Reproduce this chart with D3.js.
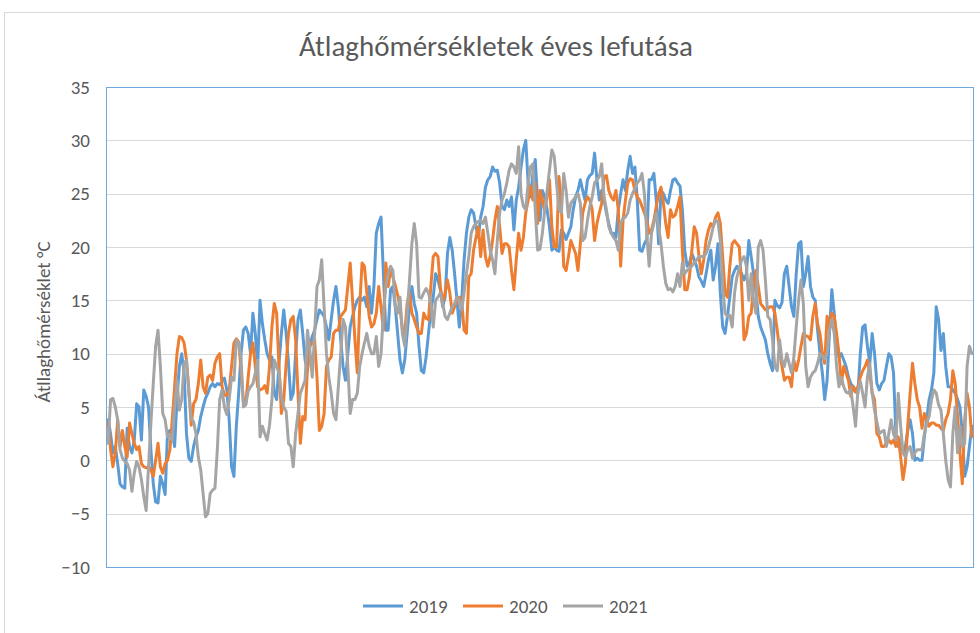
<!DOCTYPE html>
<html>
<head>
<meta charset="utf-8">
<script src="https://cdn.jsdelivr.net/npm/d3@7"></script>
<style>
  body { margin: 0; background: #fff; }
  svg { display: block; }
</style>
</head>
<body>
<svg id="chart" width="980" height="633"></svg>
<script>
// napi átlaghőmérsékletek (°C), az év napjai szerint
const days = d3.range(1, 366);

const t2019 = [
  3.8, 2.5, 0.7, 1.3, -0.3, -2.2, -2.5, -2.6, 3.0, 1.3,
  0.7, 1.9, 5.3, 5.0, 1.9, 6.6, 6.0, 5.0, 1.0, -2.2,
  -3.9, -4.0, -1.5, -2.2, -3.2, 2.5, 2.8, 2.5, 1.3, 5.7,
  8.8, 10.0, 8.2, 2.5, 0.2, -0.1, 1.3, 2.2, 2.8, 4.1,
  5.0, 5.8, 6.3, 6.9, 7.2, 6.9, 7.2, 7.1, 7.4, 7.7,
  6.6, 3.8, -0.6, -1.5, 3.2, 6.3, 10.0, 12.2, 12.5, 11.9,
  10.0, 13.8, 11.9, 8.8, 15.0, 12.8, 11.3, 10.0, 9.4, 9.7,
  6.3, 5.7, 9.1, 11.9, 14.1, 11.9, 9.1, 5.7, 6.3, 10.0,
  13.2, 14.1, 11.9, 9.4, 8.4, 10.7, 11.6, 12.2, 13.2, 14.1,
  13.8, 13.5, 12.5, 11.3, 13.2, 15.0, 16.3, 14.4, 11.3, 8.8,
  7.5, 10.0, 12.5, 13.5, 14.4, 15.0, 15.3, 15.0, 15.3, 14.4,
  16.3, 13.8, 16.3, 21.3, 22.2, 22.8, 17.5, 12.2, 12.2, 16.0,
  16.3, 14.4, 11.9, 9.4, 8.2, 9.4, 11.9, 14.4, 16.3, 14.7,
  13.8, 10.7, 8.4, 8.2, 9.7, 11.9, 14.1, 15.3, 17.5, 16.9,
  16.0, 14.4, 15.3, 19.4, 20.9, 19.7, 17.5, 15.0, 12.5, 15.0,
  18.8, 21.3, 22.8, 23.5, 23.2, 21.9, 20.9, 22.8, 23.8, 25.6,
  26.3, 26.6, 27.5, 27.1, 27.2, 26.0, 23.8, 23.5, 24.4, 23.8,
  24.7, 21.6, 24.4, 25.6, 27.5, 29.1, 30.0, 26.0, 24.7, 26.9,
  28.2, 24.4, 22.5, 25.3, 24.7, 23.5, 21.9, 19.7, 20.0, 19.7,
  19.6, 21.6, 21.3, 20.7, 21.3, 21.9, 23.5, 24.7, 25.3, 26.3,
  25.3, 24.4, 26.3, 26.7, 26.9, 28.8, 26.3, 24.4, 25.3, 24.4,
  23.2, 22.2, 21.3, 21.3, 20.9, 23.5, 25.0, 26.3, 25.3, 27.2,
  28.5, 26.9, 27.5, 24.4, 19.7, 19.6, 20.3, 20.7, 26.3, 26.3,
  26.9, 24.4, 20.3, 25.3, 25.0, 24.4, 24.1, 25.3, 26.3, 26.4,
  26.0, 25.7, 23.5, 19.7, 18.2, 18.5, 19.4, 18.8, 18.2, 17.2,
  16.8, 16.3, 17.5, 18.8, 19.7, 16.9, 18.2, 20.3, 15.7, 12.5,
  11.9, 13.5, 15.3, 17.2, 17.8, 18.2, 17.8, 17.5, 16.9, 17.5,
  20.6, 19.1, 17.5, 16.0, 13.5, 12.5, 11.9, 11.3, 10.0, 9.1,
  8.4, 15.0, 14.5, 14.3, 14.8, 17.5, 18.2, 16.3, 14.4, 13.5,
  17.5, 20.3, 20.5, 16.3, 17.5, 19.1, 16.3, 15.3, 15.0, 12.2,
  10.0, 8.2, 5.7, 7.5, 11.9, 16.0, 13.8, 10.9, 9.7, 10.0,
  9.4, 8.8, 7.8, 7.2, 6.9, 6.6, 6.3, 10.0, 12.5, 12.7,
  10.7, 9.1, 11.9, 10.0, 7.2, 6.6, 7.2, 7.5, 8.8, 10.0,
  9.7, 8.2, 2.5, 1.3, 1.9, 0.7, 1.3, 2.8, 3.8, 2.5,
  0.0, 0.2, 0.0, 0.0, 2.2, 3.8, 5.7, 6.6, 8.2, 14.4,
  13.2, 10.3, 11.9, 8.8, 6.9, 6.9, 6.6, 6.3, 5.7, 5.0,
  2.5, -1.5, -0.6, 1.3, 3.2
];

const t2020 = [
  3.5, 1.0, -0.6, 0.7, 3.8, 1.3, 2.8, 1.3, 0.3, 3.5,
  2.5, 1.6, 1.0, 1.3, -0.3, -0.6, -0.7, -0.6, -0.9, -1.5,
  0.0, 1.6, -0.6, -1.2, -0.3, 0.0, 1.0, 3.8, 6.9, 10.0,
  11.6, 11.5, 11.0, 9.4, 6.6, 3.3, 5.3, 5.7, 7.2, 9.4,
  6.9, 6.3, 7.8, 8.0, 7.5, 9.1, 9.7, 10.0, 6.9, 6.1,
  6.1, 6.6, 8.8, 11.0, 11.4, 11.1, 8.5, 5.5, 5.3, 7.8,
  10.0, 11.0, 8.8, 6.9, 6.6, 6.7, 7.0, 6.3, 8.8, 12.5,
  14.7, 13.8, 8.8, 4.4, 5.7, 9.1, 11.9, 13.2, 13.5, 11.3,
  6.3, 1.6, 4.1, 3.8, 8.8, 10.7, 11.0, 11.3, 7.8, 2.8,
  3.2, 4.4, 8.8, 9.4, 9.7, 11.9, 12.2, 12.2, 13.5, 13.8,
  14.1, 16.3, 18.5, 15.0, 11.3, 8.2, 14.4, 18.5, 18.2, 15.7,
  13.5, 12.5, 12.8, 13.8, 16.3, 14.4, 12.2, 18.5, 16.3, 17.8,
  17.2, 16.4, 15.5, 14.4, 12.2, 11.9, 14.7, 15.7, 13.8, 13.2,
  12.5, 11.9, 11.9, 13.8, 13.3, 13.2, 16.3, 19.1, 19.4, 19.1,
  16.3, 14.7, 15.7, 16.9, 15.7, 13.8, 14.4, 15.0, 15.3, 15.0,
  12.2, 11.9, 17.2, 17.5, 19.7, 20.9, 21.9, 19.1, 21.6, 19.1,
  18.2, 19.1, 20.6, 22.5, 23.8, 21.9, 19.4, 20.3, 20.3, 20.0,
  17.8, 16.0, 18.8, 21.3, 19.7, 20.9, 23.2, 24.4, 25.7, 24.4,
  26.0, 22.2, 25.3, 24.4, 23.5, 24.7, 26.3, 21.9, 20.0, 20.0,
  26.6, 23.8, 18.2, 17.8, 19.1, 20.6, 20.0, 19.4, 17.8, 20.3,
  23.2, 24.1, 24.7, 24.4, 23.5, 20.6, 22.2, 23.2, 24.1, 26.6,
  26.7, 25.3, 24.7, 24.4, 25.3, 23.5, 18.2, 22.5, 24.4, 26.0,
  26.4, 26.3, 25.3, 24.7, 24.4, 23.8, 23.2, 22.5, 21.3, 21.6,
  22.5, 23.8, 25.0, 25.6, 24.1, 22.2, 20.9, 23.5, 22.8, 23.0,
  23.8, 24.7, 19.7, 16.0, 16.0, 17.2, 19.7, 21.9, 21.3, 19.1,
  17.5, 18.8, 20.6, 21.6, 22.2, 21.9, 22.8, 23.2, 22.2, 19.1,
  15.7, 15.3, 18.2, 20.3, 20.6, 20.3, 20.0, 16.3, 11.3, 11.9,
  13.5, 13.8, 16.3, 17.8, 16.3, 14.7, 14.4, 14.1, 14.2, 14.4,
  14.4, 13.8, 12.2, 10.3, 8.8, 7.5, 7.8, 7.8, 6.9, 9.4,
  8.4, 9.4, 10.7, 11.9, 11.7, 11.6, 11.3, 13.5, 14.7, 12.8,
  11.9, 10.0, 9.1, 13.5, 12.5, 13.8, 13.5, 11.9, 10.0, 7.2,
  8.8, 8.2, 7.5, 6.0, 6.9, 6.4, 6.9, 7.8, 8.4, 8.8,
  9.4, 8.2, 6.3, 5.7, 2.5, 2.2, 1.3, 1.3, 1.6, 1.9,
  1.6, 1.9, 1.3, 2.2, 0.3, -1.8, -0.3, 3.2, 6.3, 9.1,
  7.2, 5.7, 5.0, 3.0, 4.4, 3.8, 3.2, 3.5, 3.5, 3.3,
  3.3, 3.0, 2.8, 3.8, 4.4, 5.7, 8.4, 7.2, 4.1, 0.7,
  -2.2, 3.8, 6.3, 5.0, 2.2
];

const t2021 = [
  1.6, 5.7, 5.8, 5.0, 3.8, 1.0, 0.2, -0.1, -0.3, -0.9,
  -2.9, -1.2, -0.1, -0.6, -1.8, -3.4, -4.7, -0.6, 3.5, 7.2,
  10.7, 12.2, 8.8, 4.4, 3.8, 2.2, 2.4, 1.9, 5.0, 7.5,
  4.7, 5.7, 9.1, 9.4, 6.3, 3.9, 3.6, 2.5, 0.3, -0.9,
  -3.1, -5.3, -5.0, -3.1, -2.8, -2.6, 1.0, 5.7, 6.6, 5.0,
  4.3, 5.7, 7.8, 7.5, 11.3, 11.0, 9.5, 5.0, 5.2, 6.5,
  6.9, 7.2, 8.2, 9.4, 2.2, 3.2, 2.5, 1.9, 3.3, 5.7,
  9.4, 8.8, 8.2, 6.0, 5.0, 4.6, 1.6, 1.3, -0.6, 2.5,
  4.4, 6.3, 6.9, 7.5, 12.2, 10.3, 7.8, 11.9, 16.3, 16.9,
  18.8, 14.4, 10.0, 7.8, 6.3, 4.4, 3.8, 6.9, 10.0, 13.2,
  12.5, 8.8, 4.4, 5.7, 5.7, 6.3, 8.8, 10.0, 11.0, 11.9,
  10.7, 10.0, 10.0, 11.6, 8.8, 10.0, 13.8, 16.3, 17.5, 18.2,
  17.8, 14.4, 13.8, 15.3, 11.9, 10.7, 13.8, 16.9, 20.3, 22.2,
  20.3, 15.3, 15.2, 15.7, 16.1, 15.7, 14.7, 12.5, 15.0, 15.3,
  15.7, 14.7, 13.5, 13.2, 13.8, 14.4, 14.7, 15.3, 15.0, 14.1,
  15.7, 17.5, 19.1, 21.3, 21.9, 22.2, 22.4, 22.5, 22.2, 22.8,
  21.3, 19.7, 18.8, 17.5, 20.6, 23.2, 24.4, 25.0, 26.0, 27.2,
  27.8, 27.5, 26.9, 29.4, 25.0, 23.8, 23.5, 26.0, 27.5, 27.8,
  23.5, 19.7, 19.8, 21.3, 23.5, 25.3, 27.2, 29.1, 28.5, 26.0,
  23.5, 23.2, 26.9, 25.3, 22.8, 24.1, 24.4, 24.7, 25.0, 24.1,
  20.6, 20.9, 22.5, 23.8, 24.7, 26.0, 26.3, 26.6, 27.8, 24.7,
  23.5, 21.9, 21.3, 20.9, 20.6, 19.7, 22.2, 22.7, 22.8, 23.2,
  24.4, 25.0, 25.5, 26.0, 26.3, 26.9, 25.0, 21.3, 18.2, 21.3,
  22.2, 23.2, 21.9, 20.3, 18.2, 16.6, 16.0, 16.1, 15.8, 16.3,
  17.5, 16.3, 18.5, 17.5, 17.8, 18.0, 18.2, 18.5, 18.8, 19.1,
  19.1, 19.1, 19.4, 20.0, 20.9, 21.9, 22.5, 22.4, 20.6, 16.3,
  13.8, 13.5, 13.6, 12.5, 15.7, 17.2, 18.0, 18.8, 19.1, 18.2,
  15.0, 17.5, 15.0, 13.8, 20.0, 20.6, 19.7, 16.9, 13.5, 13.2,
  11.3, 8.8, 8.4, 11.3, 9.4, 8.8, 10.0, 9.1, 8.2, 9.7,
  12.5, 15.0, 16.9, 14.7, 8.8, 6.9, 7.8, 8.2, 8.4, 9.1,
  10.0, 9.8, 9.5, 10.0, 12.2, 13.2, 11.9, 8.8, 6.9, 7.8,
  6.9, 6.4, 6.3, 6.6, 5.0, 3.2, 6.6, 7.4, 6.3, 5.0,
  7.8, 9.1, 6.3, 4.7, 3.6, 2.5, 2.7, 2.8, 1.3, 2.5,
  3.8, 2.5, 1.9, 6.3, 3.2, 0.7, 0.3, 1.0, 1.3, 0.2,
  0.7, 1.0, 1.0, 1.0, 2.5, 3.5, 4.1, 5.7, 6.6, 6.3,
  5.2, 4.7, 2.5, 0.0, -1.8, -2.5, 2.5, 5.0, 0.7, 3.2,
  1.3, 1.6, 8.8, 10.7, 10.0
];

const seriesNames = ["2019", "2020", "2021"];
const seriesColors = ["#5B9BD5", "#ED7D31", "#A5A5A5"];
const yTicks = [-10, -5, 0, 5, 10, 15, 20, 25, 30, 35];

const series = [t2019, t2020, t2021].map((vals, i) => ({
  name: seriesNames[i],
  color: seriesColors[i],
  values: vals
}));

const svg = d3.select("#chart");
const font = "Carlito, Calibri, 'Open Sans', sans-serif";
const plot = { left: 107, right: 973, top: 87, bottom: 567 };

// chart frame
svg.append("rect")
  .attr("x", 4.5).attr("y", 12.5)
  .attr("width", 1000).attr("height", 700)
  .attr("fill", "#fff")
  .attr("stroke", "#D9D9D9");

const x = d3.scalePoint()
  .domain(days)
  .range([plot.left, plot.right])
  .padding(0.5);

const y = d3.scaleLinear()
  .domain([-10, 35])
  .range([plot.bottom, plot.top]);

// gridlines
svg.append("g")
  .selectAll("line")
  .data(yTicks)
  .enter()
  .append("line")
  .attr("x1", plot.left).attr("x2", plot.right)
  .attr("y1", d => Math.round(y(d)) + 0.5)
  .attr("y2", d => Math.round(y(d)) + 0.5)
  .attr("stroke", "#D9D9D9")
  .attr("stroke-width", 1);

// y axis labels
const yAxis = d3.axisLeft(y).tickValues(yTicks).tickSize(0).tickPadding(17);
svg.append("g")
  .attr("transform", "translate(" + plot.left + ",0)")
  .call(yAxis)
  .call(g => g.select(".domain").remove())
  .selectAll("text")
  .style("font-family", font)
  .style("font-size", "19px")
  .attr("fill", "#595959");

svg.append("defs").append("clipPath")
  .attr("id", "clip")
  .append("rect")
  .attr("x", plot.left).attr("y", plot.top)
  .attr("width", plot.right - plot.left)
  .attr("height", plot.bottom - plot.top);

const line = d3.line()
  .x((d, i) => x(days[i]))
  .y(d => y(d));

svg.append("g")
  .attr("clip-path", "url(#clip)")
  .selectAll("path")
  .data(series)
  .enter()
  .append("path")
  .attr("d", d => line(d.values))
  .attr("fill", "none")
  .attr("stroke", d => d.color)
  .attr("stroke-width", 3)
  .attr("stroke-linejoin", "round")
  .attr("stroke-linecap", "round");

// plot area border
svg.append("rect")
  .attr("x", plot.left - 0.5).attr("y", plot.top + 0.5)
  .attr("width", plot.right - plot.left + 1)
  .attr("height", plot.bottom - plot.top)
  .attr("fill", "none")
  .attr("stroke", "#6FA8DC")
  .attr("stroke-width", 1);

// title
svg.append("text")
  .attr("x", 496).attr("y", 56)
  .attr("text-anchor", "middle")
  .style("font-family", font)
  .style("font-size", "29px")
  .attr("fill", "#595959")
  .text("Átlaghőmérsékletek éves lefutása");

// y axis title
svg.append("text")
  .attr("transform", "translate(50,322)rotate(-90)")
  .attr("text-anchor", "middle")
  .style("font-family", font)
  .style("font-size", "19px")
  .attr("fill", "#595959")
  .text("Átllaghőmérséklet °C");

// legend
const legend = svg.append("g").attr("transform", "translate(363,606)");
const items = legend.selectAll("g")
  .data(series)
  .enter()
  .append("g")
  .attr("transform", (d, i) => "translate(" + i * 100 + ",0)");
items.append("line")
  .attr("x1", 0).attr("x2", 40)
  .attr("y1", 0).attr("y2", 0)
  .attr("stroke", d => d.color)
  .attr("stroke-width", 3);
items.append("text")
  .attr("x", 46).attr("y", 6.5)
  .style("font-family", font)
  .style("font-size", "19px")
  .attr("fill", "#595959")
  .text(d => d.name);
</script>
</body>
</html>
